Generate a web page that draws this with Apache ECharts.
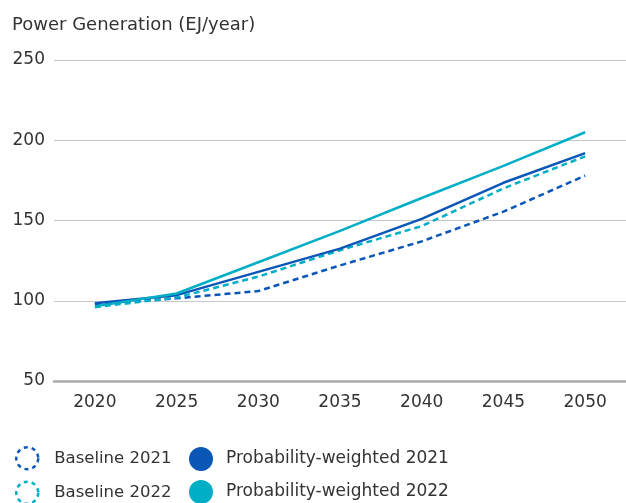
<!DOCTYPE html>
<html>
<head>
<meta charset="utf-8">
<script src="https://cdn.jsdelivr.net/npm/echarts@6/dist/echarts.min.js"></script>
<style>
  html, body { margin: 0; padding: 0; background: #fff; }
  #chart { width: 626px; height: 503px; }
</style>
</head>
<body>
<div id="chart"></div>
<script>
// data
var years = ['2020', '2025', '2030', '2035', '2040', '2045', '2050']
var baseline2021 = [98, 101.5, 106, 122, 137, 155.5, 178]
var baseline2022 = [96, 102, 115, 131.5, 146.5, 170, 190]
var weighted2021 = [98.5, 103.5, 118, 132.5, 151, 173.5, 192]
var weighted2022 = [96.5, 104.5, 124, 143.5, 164, 184, 205]

var darkBlue = '#0b57b8'
var cyan = '#00aec6'
var font = 'DejaVu Sans'

var chart = echarts.init(document.getElementById('chart'))

function lineSeries(name, data, color, dashed) {
  return {
    name: name,
    type: 'line',
    data: data,
    symbol: 'none',
    color: color,
    lineStyle: {
      color: color,
      width: 2.5,
      type: dashed ? [6, 4] : 'solid'
    },
    emphasis: { disabled: true }
  }
}

chart.setOption({
  animation: false,
  title: {
    text: 'Power Generation (EJ/year)',
    left: 7,
    top: 11,
    textStyle: { fontFamily: font, fontSize: 18, fontWeight: 'normal', color: '#333' }
  },
  grid: { left: 54, right: -13, top: 60, bottom: 122 },
  legend: [
    {
      orient: 'vertical',
      left: 15,
      top: 446,
      height: 80,
      padding: 0,
      itemWidth: 22,
      itemHeight: 22,
      itemGap: 10,
      textStyle: { fontFamily: font, fontSize: 16.5, color: '#333', padding: [0, 0, 0, 11] },
      data: [
        { name: 'Baseline 2021', icon: 'circle',
          itemStyle: { color: 'rgba(0,0,0,0)', borderColor: darkBlue, borderWidth: 2.5, borderType: [4, 4] } },
        { name: 'Baseline 2022', icon: 'circle',
          itemStyle: { color: 'rgba(0,0,0,0)', borderColor: cyan, borderWidth: 2.5, borderType: [4, 4] } }
      ]
    },
    {
      orient: 'vertical',
      left: 189,
      top: 447,
      height: 80,
      padding: 0,
      itemWidth: 24,
      itemHeight: 24,
      itemGap: 9,
      textStyle: { fontFamily: font, fontSize: 17, color: '#333', padding: [0, 0, 0, 8] },
      data: [
        { name: 'Probability-weighted 2021', icon: 'circle', itemStyle: { color: darkBlue } },
        { name: 'Probability-weighted 2022', icon: 'circle', itemStyle: { color: cyan } }
      ]
    }
  ],
  xAxis: {
    type: 'category',
    data: years,
    boundaryGap: true,
    axisLine: { lineStyle: { color: '#aaa', width: 2.5 } },
    axisTick: { show: false },
    axisLabel: { fontFamily: font, fontSize: 17, color: '#333', margin: 13 }
  },
  yAxis: {
    type: 'value',
    min: 50,
    max: 250,
    interval: 50,
    axisLine: { show: false },
    axisTick: { show: false },
    axisLabel: { fontFamily: font, fontSize: 17, color: '#333', margin: 9 },
    splitLine: { lineStyle: { color: '#c8c8c8', width: 1 } }
  },
  series: [
    lineSeries('Baseline 2021', baseline2021, darkBlue, true),
    lineSeries('Baseline 2022', baseline2022, cyan, true),
    lineSeries('Probability-weighted 2021', weighted2021, darkBlue, false),
    lineSeries('Probability-weighted 2022', weighted2022, cyan, false)
  ]
})
</script>
</body>
</html>
